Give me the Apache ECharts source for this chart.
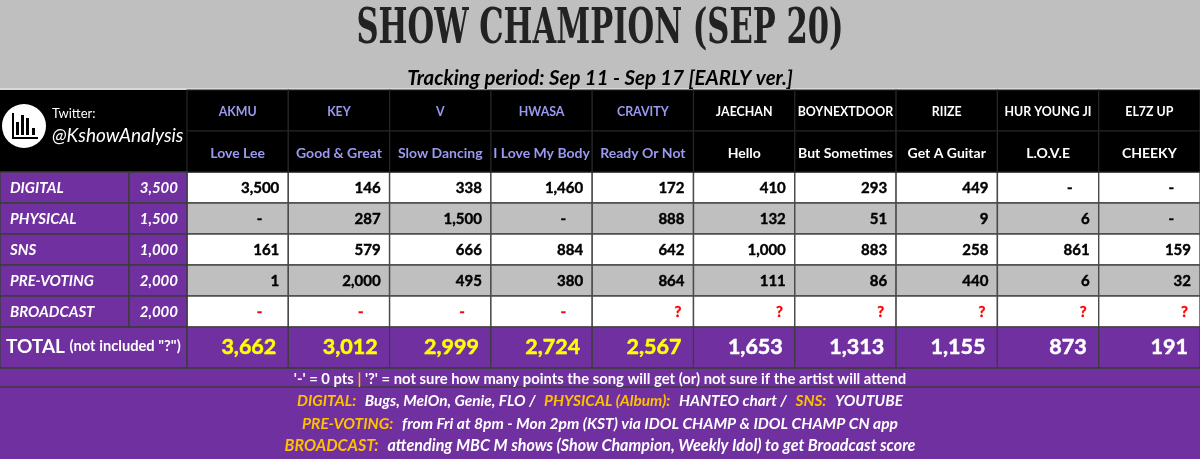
<!DOCTYPE html>
<html><head><meta charset="utf-8">
<style>html,body{margin:0;padding:0;background:#bfbfbf}#c{width:1200px;height:459px}</style>
<script src="https://cdn.jsdelivr.net/npm/echarts@6/dist/echarts.min.js"></script>
</head><body><div id="c"></div>
<script>
const chartTitle = 'SHOW CHAMPION (SEP 20)';
const artists = ['AKMU','KEY','V','HWASA','CRAVITY','JAECHAN','BOYNEXTDOOR','RIIZE','HUR YOUNG JI','EL7Z UP'];
const songs = ['Love Lee','Good & Great','Slow Dancing','I Love My Body','Ready Or Not','Hello','But Sometimes','Get A Guitar','L.O.V.E','CHEEKY'];
const metrics = ['DIGITAL','PHYSICAL','SNS','PRE-VOTING','BROADCAST'];
const maxPoints = [3500,1500,1000,2000,2000];
const digital = [3500,146,338,1460,172,410,293,449,'-','-'];
const physical = ['-',287,1500,'-',888,132,51,9,6,'-'];
const sns = [161,579,666,884,642,1000,883,258,861,159];
const preVoting = [1,2000,495,380,864,111,86,440,6,32];
const broadcast = ['-','-','-','-','?','?','?','?','?','?'];
const totals = [3662,3012,2999,2724,2567,1653,1313,1155,873,191];
const highlighted = 5;

const body = [digital,physical,sns,preVoting,broadcast];
const F = 'Lato, "Open Sans", sans-serif';
const fmt = v => typeof v === 'number' ? v.toLocaleString('en-US') : v;
const LINE = '#3c3c3c';
const cellRect = (api, fill, stroke, lw) => {
  const c = api.coord([api.value(0), api.value(1)]), s = api.size([1,1]);
  return {c, s, rect:{type:'rect', shape:{x:c[0]-s[0]/2, y:c[1]-s[1]/2, width:s[0], height:s[1]},
    style:{fill, stroke, lineWidth:lw}}};
};

const bodyCells = [];
body.forEach((row,j)=>row.forEach((v,i)=>bodyCells.push([i,j])));
const bodyTexts = bodyCells.map(([i,j])=>body[j][i]);
function renderBody(params, api){
  const j = api.value(1), v = bodyTexts[params.dataIndex];
  const {c,s,rect} = cellRect(api, j%2 ? '#bfbfbf' : '#ffffff', '#4a4a4a', 1.4);
  const right = c[0]+s[0]/2;
  const red = j === 4;
  const pad = v === '-' ? 26 : v === '?' ? 12 : 9;
  const col = red ? '#ff0000' : '#000000';
  return {type:'group', children:[rect,{type:'text', style:{text:fmt(v), x:right-pad, y:c[1]+1,
    align:'right', verticalAlign:'middle', fill:col, stroke:col, lineWidth:0.4,
    font:`bold 15px ${F}`}}]};
}
function renderTotal(params, api){
  const i = api.value(0);
  const {c,s,rect} = cellRect(api, '#7030a0', LINE, 1.2);
  const col = i<highlighted?'#ffff00':'#ffffff';
  return {type:'group', children:[rect,{type:'text', style:{text:fmt(totals[i]), x:c[0]+s[0]/2-12, y:c[1],
    align:'right', verticalAlign:'middle', fill:col, stroke:col, lineWidth:0.5,
    font:`bold 21.5px ${F}`}}]};
}
function renderHeader(params, api){
  const i = api.value(0), j = api.value(1);
  const {c,rect} = cellRect(api, '#000000', '#262626', 1.2);
  return {type:'group', children:[rect,{type:'text', style:{text:(j?songs:artists)[i], x:c[0], y:c[1]+1.5,
    align:'center', verticalAlign:'middle', fill:i<highlighted?'#9a9af0':'#ffffff',
    font:`bold ${j?14:12.4}px ${F}`}}]};
}
function renderName(params, api){
  const j = api.value(1);
  const {c,s,rect} = cellRect(api, '#7030a0', LINE, 1.4);
  return {type:'group', children:[rect,{type:'text', style:{text:metrics[j], x:c[0]-s[0]/2+10, y:c[1]+1,
    align:'left', verticalAlign:'middle', fill:'#ffffff', font:`italic bold 15px ${F}`}}]};
}
function renderMax(params, api){
  const j = api.value(1);
  const {c,s,rect} = cellRect(api, '#7030a0', LINE, 1.4);
  return {type:'group', children:[rect,{type:'text', style:{text:fmt(maxPoints[j]), x:c[0]+s[0]/2-9, y:c[1]+1,
    align:'right', verticalAlign:'middle', fill:'#ffffff', font:`italic bold 15px ${F}`}}]};
}

const grids = [
  {left:187,right:0,top:172,height:155},
  {left:187,right:0,top:327,height:41},
  {left:187,right:0,top:90,height:82},
  {left:0,width:129,top:172,height:155},
  {left:129,width:58,top:172,height:155}
];
const hide = {show:false};
const xCat = (g,data)=>({type:'category',gridIndex:g,data,...hide});
const yCat = (g,data)=>({type:'category',gridIndex:g,data,inverse:true,...hide});

const richAt = s => ({
  o:{color:'#ffc000',fontFamily:F,fontSize:s,fontWeight:'bold',fontStyle:'italic'},
  w:{color:'#ffffff',fontFamily:F,fontSize:s,fontWeight:'bold',fontStyle:'italic'}
});
const foot = (text,top,s)=>({text,left:'center',top,padding:0,textStyle:{rich:richAt(s),fontSize:s}});

const bar = (x,y,w,h)=>({type:'rect',z:11,shape:{x,y,width:w,height:h},style:{fill:'#000'}});
const band = (y,h,fill)=>({type:'rect',z:0,shape:{x:0,y,width:1200,height:h},style:{fill}});
const rule = y=>({type:'line',z:5,shape:{x1:0,y1:y,x2:1200,y2:y},style:{stroke:LINE,lineWidth:1.4}});

const chart = echarts.init(document.getElementById('c'),null,{renderer:'canvas'});
chart.setOption({
  animation:false,
  backgroundColor:'#bfbfbf',
  title:[
    {text:'Tracking period: Sep 11 - Sep 17 [EARLY ver.]',left:'center',top:68,padding:0,textStyle:{fontFamily:F,fontStyle:'italic',fontWeight:'bold',fontSize:20.4,color:'#000'}},
    {text:"'-' = 0 pts {y||} '?' = not sure how many points the song will get (or) not sure if the artist will attend",
      left:'center',top:372,padding:0,textStyle:{fontFamily:F,fontWeight:'bold',fontSize:14.8,color:'#fff',rich:{y:{color:'#ffc000',fontFamily:F,fontSize:15,fontWeight:'bold'}}}},
    foot('{o|DIGITAL:}  {w|Bugs, MelOn, Genie, FLO /}  {o|PHYSICAL (Album):}  {w|HANTEO chart /}  {o|SNS:}  {w|YOUTUBE}',394,15.4),
    foot('{o|PRE-VOTING:}  {w|from Fri at 8pm - Mon 2pm (KST) via IDOL CHAMP & IDOL CHAMP CN app}',416,15.6),
    foot('{o|BROADCAST:}  {w|attending MBC M shows (Show Champion, Weekly Idol) to get Broadcast score}',438,16.1),
    {text:'TOTAL {s|(not included "?")}',left:6,top:337,padding:0,textStyle:{fontFamily:F,fontWeight:'bold',fontSize:19,color:'#fff',rich:{s:{fontFamily:F,fontWeight:'bold',fontSize:14.7,color:'#fff'}}}},
    {text:'Twitter:',left:52,top:107,padding:0,textStyle:{fontFamily:F,fontWeight:'normal',fontSize:13,color:'#fff'}},
    {text:'@KshowAnalysis',left:52,top:126,padding:0,textStyle:{fontFamily:F,fontWeight:'normal',fontStyle:'italic',fontSize:19,color:'#fff'}}
  ],
  grid:grids,
  xAxis:[xCat(0,artists),xCat(1,artists),xCat(2,artists),xCat(3,['name']),xCat(4,['max'])],
  yAxis:[yCat(0,metrics),yCat(1,['TOTAL']),yCat(2,['artist','song']),yCat(3,metrics),yCat(4,metrics)],
  graphic:[
    band(88,2,'#d9d9d9'),
    band(90,82,'#000000'),
    band(172,287,'#7030a0'),
    {type:'text',z:10,x:600,y:31,scaleX:0.638,style:{text:chartTitle,x:0,y:0,align:'center',verticalAlign:'middle',
      font:'bold 48px "DejaVu Serif","Liberation Serif",serif',fill:'#222222'}},
    {type:'rect',z:5,shape:{x:0,y:327,width:187,height:41},style:{fill:'transparent',stroke:LINE,lineWidth:1.2}},
    rule(368),rule(387),
    {type:'circle',z:10,shape:{cx:24,cy:126,r:22},style:{fill:'#fff'}},
    bar(12,113,2,26),bar(12,137,26,2),
    bar(16,122,3,13),bar(21,115,3,20),bar(26,118,3,17),bar(32,128,3,7)
  ],
  series:[
    {type:'custom',coordinateSystem:'cartesian2d',xAxisIndex:0,yAxisIndex:0,data:bodyCells,renderItem:renderBody,silent:true},
    {type:'custom',coordinateSystem:'cartesian2d',xAxisIndex:1,yAxisIndex:1,data:totals.map((v,i)=>[i,0]),renderItem:renderTotal,silent:true},
    {type:'custom',coordinateSystem:'cartesian2d',xAxisIndex:2,yAxisIndex:2,data:artists.flatMap((a,i)=>[[i,0],[i,1]]),renderItem:renderHeader,silent:true},
    {type:'custom',coordinateSystem:'cartesian2d',xAxisIndex:3,yAxisIndex:3,data:metrics.map((m,j)=>[0,j]),renderItem:renderName,silent:true},
    {type:'custom',coordinateSystem:'cartesian2d',xAxisIndex:4,yAxisIndex:4,data:metrics.map((m,j)=>[0,j]),renderItem:renderMax,silent:true}
  ]
});
</script></body></html>
